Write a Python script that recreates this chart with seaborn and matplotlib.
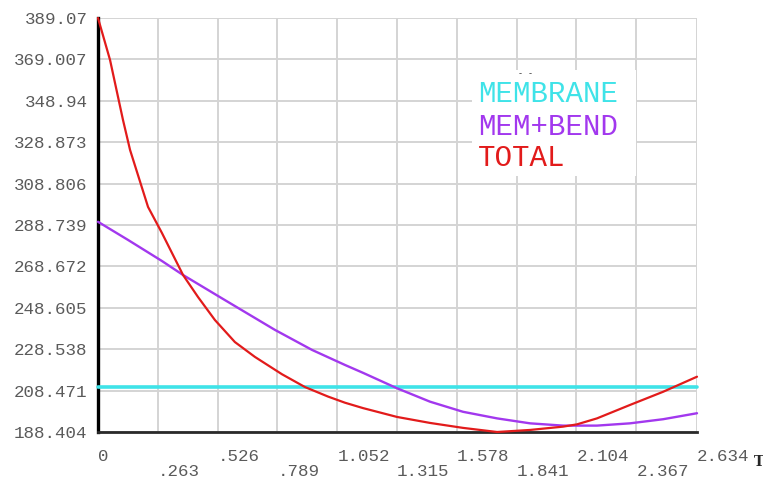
import matplotlib
matplotlib.use("Agg")
import matplotlib.pyplot as plt
from matplotlib.patches import Rectangle
import seaborn as sns
import pandas as pd

# Path positions and stress values along the path
membrane_x = [0.0, 2.634]
membrane_v = [210.1, 210.1]

memb_bend_x = [0.0, 0.132, 0.281, 0.374, 0.545, 0.778, 0.941, 1.086, 1.165, 1.315, 1.460,
               1.605, 1.755, 1.900, 2.045, 2.194, 2.339, 2.485, 2.634]
memb_bend_v = [290.3, 281.5, 271.3, 264.5, 253.2, 237.9, 228.2, 220.9, 217.1, 209.6, 203.1,
               198.2, 195.0, 192.6, 191.5, 191.5, 192.6, 194.6, 197.5]

total_x = [0.0, 0.053, 0.110, 0.141, 0.220, 0.281, 0.374, 0.440, 0.514, 0.602, 0.690, 0.809,
           0.910, 1.011, 1.086, 1.165, 1.315, 1.460, 1.605, 1.755, 1.900, 2.045, 2.106,
           2.194, 2.339, 2.485, 2.634]
total_v = [389.07, 368.7, 339.6, 325.1, 297.5, 284.9, 264.5, 253.8, 242.7, 232.0, 224.8, 216.4,
           210.2, 205.6, 202.6, 200.0, 195.7, 192.8, 190.4, 188.404, 189.4, 191.0, 192.1,
           195.0, 201.5, 207.9, 215.2]

x_tick_labels = ["0", ".263", ".526", ".789", "1.052", "1.315", "1.578", "1.841", "2.104", "2.367", "2.634"]
y_tick_labels = ["389.07", "369.007", "348.94", "328.873", "308.806", "288.739",
                 "268.672", "248.605", "228.538", "208.471", "188.404"]

series_names = ["MEMBRANE", "MEM+BEND", "TOTAL"]
series_colors = ["#3fe3e8", "#a238ee", "#e21b1b"]

sns.set_style("white")
mono = "Liberation Mono"

fig = plt.figure(figsize=(7.63, 4.80), dpi=100)
ax = fig.add_axes([98 / 763, 1 - 432 / 480, 599 / 763, 414 / 480])

frames = [
    pd.DataFrame({"x": membrane_x, "v": membrane_v}),
    pd.DataFrame({"x": memb_bend_x, "v": memb_bend_v}),
    pd.DataFrame({"x": total_x, "v": total_v}),
]
widths = [2.6, 1.7, 1.6]
for df, col, lw in zip(frames, series_colors, widths):
    sns.lineplot(data=df, x="x", y="v", ax=ax, color=col, linewidth=lw,
                 clip_on=False, zorder=3, legend=False)

ax.set_xlim(0, 2.634)
ax.set_ylim(188.404, 389.07)

xt = [float(s) for s in x_tick_labels]
ax.set_xticks(xt[0::2], x_tick_labels[0::2])
ax.set_xticks(xt[1::2], x_tick_labels[1::2], minor=True)
yt = [float(s) for s in y_tick_labels]
ax.set_yticks(yt, y_tick_labels)

for lab in ax.get_xticklabels(which="both") + ax.get_yticklabels():
    lab.set_fontfamily(mono)
    lab.set_fontsize(12.6)
    lab.set_color("#5a5a5a")
for lab in ax.get_xticklabels(which="both"):
    lab.set_horizontalalignment("left")

ax.tick_params(axis="x", which="major", direction="out", length=6.5, width=1.2,
               color="#cfcfcf", pad=5.5)
ax.tick_params(axis="x", which="minor", direction="out", length=6.5, width=1.2,
               color="#cfcfcf", pad=16.5)
ax.tick_params(axis="y", which="major", direction="out", length=2.5, width=1.0,
               color="#9a9a9a", pad=5)

ax.grid(True, which="both", axis="x", color="#d4d4d4", linewidth=1.4)
ax.grid(True, which="major", axis="y", color="#d4d4d4", linewidth=1.4)
ax.set_axisbelow(True)

for side in ("top", "right"):
    ax.spines[side].set_visible(False)
ax.spines["left"].set_color("#000000")
ax.spines["left"].set_linewidth(2.4)
ax.spines["bottom"].set_color("#2a2a2a")
ax.spines["bottom"].set_linewidth(2.0)
ax.set_xlabel("")
ax.set_ylabel("")

# legend block: white panel with coloured series names
ax.add_patch(Rectangle((0.6244, 0.6184), 0.2738, 0.256, transform=ax.transAxes,
                       facecolor="white", edgecolor="none", zorder=2.5))
for name, col, yy in zip(series_names, series_colors, [0.8164, 0.7367, 0.6618]):
    ax.text(0.6344, yy, name, transform=ax.transAxes, color=col, family=mono,
            fontsize=21, ha="left", va="center", zorder=5)

ax.text(0.714, 0.866, "- -", transform=ax.transAxes, fontsize=6, color="black",
        family=mono, ha="center", va="center", zorder=6)
fig.text(754 / 763, 1 - 462 / 480, "T", fontsize=10, family="DejaVu Serif",
         fontweight="bold", ha="left", va="center")

fig.savefig("out.png", dpi=100)
